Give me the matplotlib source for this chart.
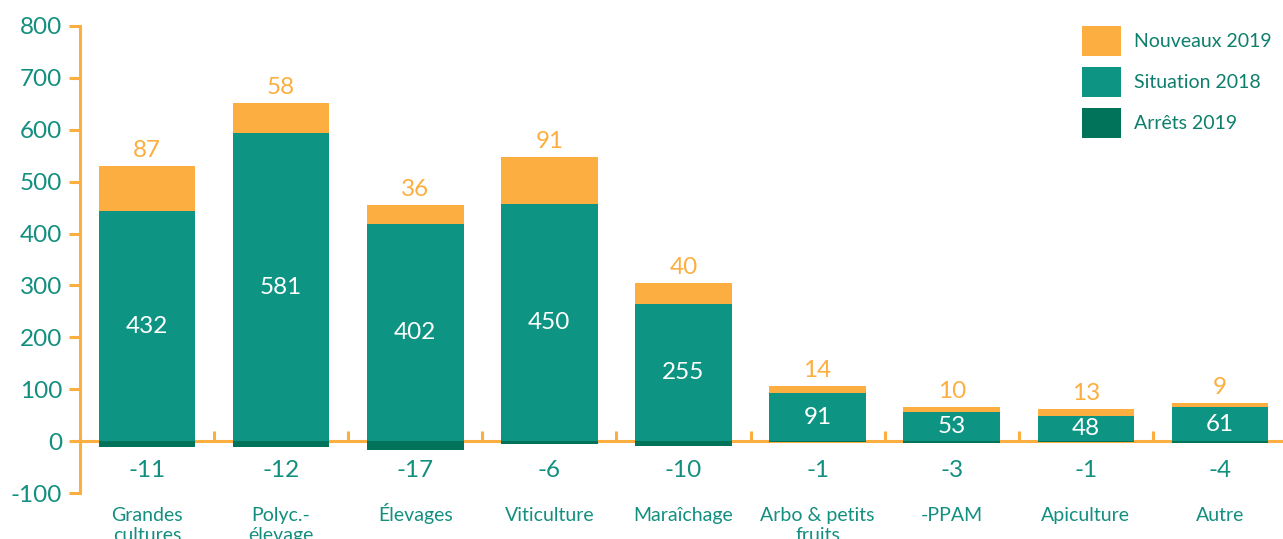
import matplotlib
matplotlib.use("Agg")
import matplotlib.pyplot as plt
import numpy as np

plt.rcParams['font.family'] = ['Lato', 'DejaVu Sans']
plt.rcParams['axes.unicode_minus'] = False

categories = ["Grandes\ncultures", "Polyc.-\nélevage", "Élevages", "Viticulture",
              "Maraîchage", "Arbo & petits\nfruits", "-PPAM", "Apiculture", "Autre"]
situation_2018 = [432, 581, 402, 450, 255, 91, 53, 48, 61]
nouveaux_2019 = [87, 58, 36, 91, 40, 14, 10, 13, 9]
arrets_2019 = [-11, -12, -17, -6, -10, -1, -3, -1, -4]
yticks = [-100, 0, 100, 200, 300, 400, 500, 600, 700, 800]

ORANGE = "#FCAF40"
TEAL = "#0D9482"
DARK = "#00735A"
TXT = "#138F7F"

sit = np.array(situation_2018)
nou = np.array(nouveaux_2019)
arr = np.array(arrets_2019)
teal_h = sit - arr  # teal block spans situation plus the stopped ones

fig = plt.figure(figsize=(12.83, 5.39), dpi=100)
ax = fig.add_axes([80/1283, 1-493/539, 1-80/1283, (493-26)/539])

x = np.arange(len(categories))
w = 0.72
b_new = ax.bar(x, nou, w, bottom=teal_h, color=ORANGE, zorder=3, label="Nouveaux 2019")
b_sit = ax.bar(x, teal_h, w, color=TEAL, zorder=3, label="Situation 2018")
b_arr = ax.bar(x, arr, w, color=DARK, zorder=3, label="Arrêts 2019")

for i in range(len(categories)):
    ax.text(x[i], teal_h[i] + nou[i] + 30, str(nou[i]), ha='center', va='center',
            color=ORANGE, fontsize=17.5)
    ax.text(x[i], teal_h[i] / 2, str(sit[i]), ha='center', va='center',
            color='white', fontsize=17.5)
    ax.text(x[i], -57, str(arr[i]), ha='center', va='center', color=TXT, fontsize=17.5)
    for j, line in enumerate(categories[i].split("\n")):
        ax.text(x[i], -0.061 - 0.042 * j, line, ha='center', va='baseline', color=TXT,
                fontsize=14, transform=ax.get_xaxis_transform(), clip_on=False)

ax.set_xlim(-0.5, 8.47)
ax.set_ylim(-100, 800)
ax.set_yticks(yticks)
ax.set_xticks(np.arange(0.5, len(categories) - 0.5, 1))
ax.set_xticklabels([])

for s in ['top', 'right']:
    ax.spines[s].set_visible(False)
ax.spines['bottom'].set_position(('data', 0))
for s in ['left', 'bottom']:
    ax.spines[s].set_color(ORANGE)
    ax.spines[s].set_linewidth(2.2)
ax.tick_params(axis='y', colors=ORANGE, labelcolor=TXT, labelsize=17.5, length=8, width=2.2, pad=5)
ax.tick_params(axis='x', direction='in', colors=ORANGE, length=7, width=2.2)

leg = ax.legend(handles=[b_new, b_sit, b_arr], loc='upper left',
                frameon=False, fontsize=14, handlelength=2.0, handleheight=2.0,
                labelspacing=0.57, handletextpad=0.67, borderpad=0, borderaxespad=0,
                labelcolor="#0E7F6C")
leg.set_bbox_to_anchor((1082/1283, 1-26/539), transform=fig.transFigure)

fig.savefig("out.png", dpi=100)
